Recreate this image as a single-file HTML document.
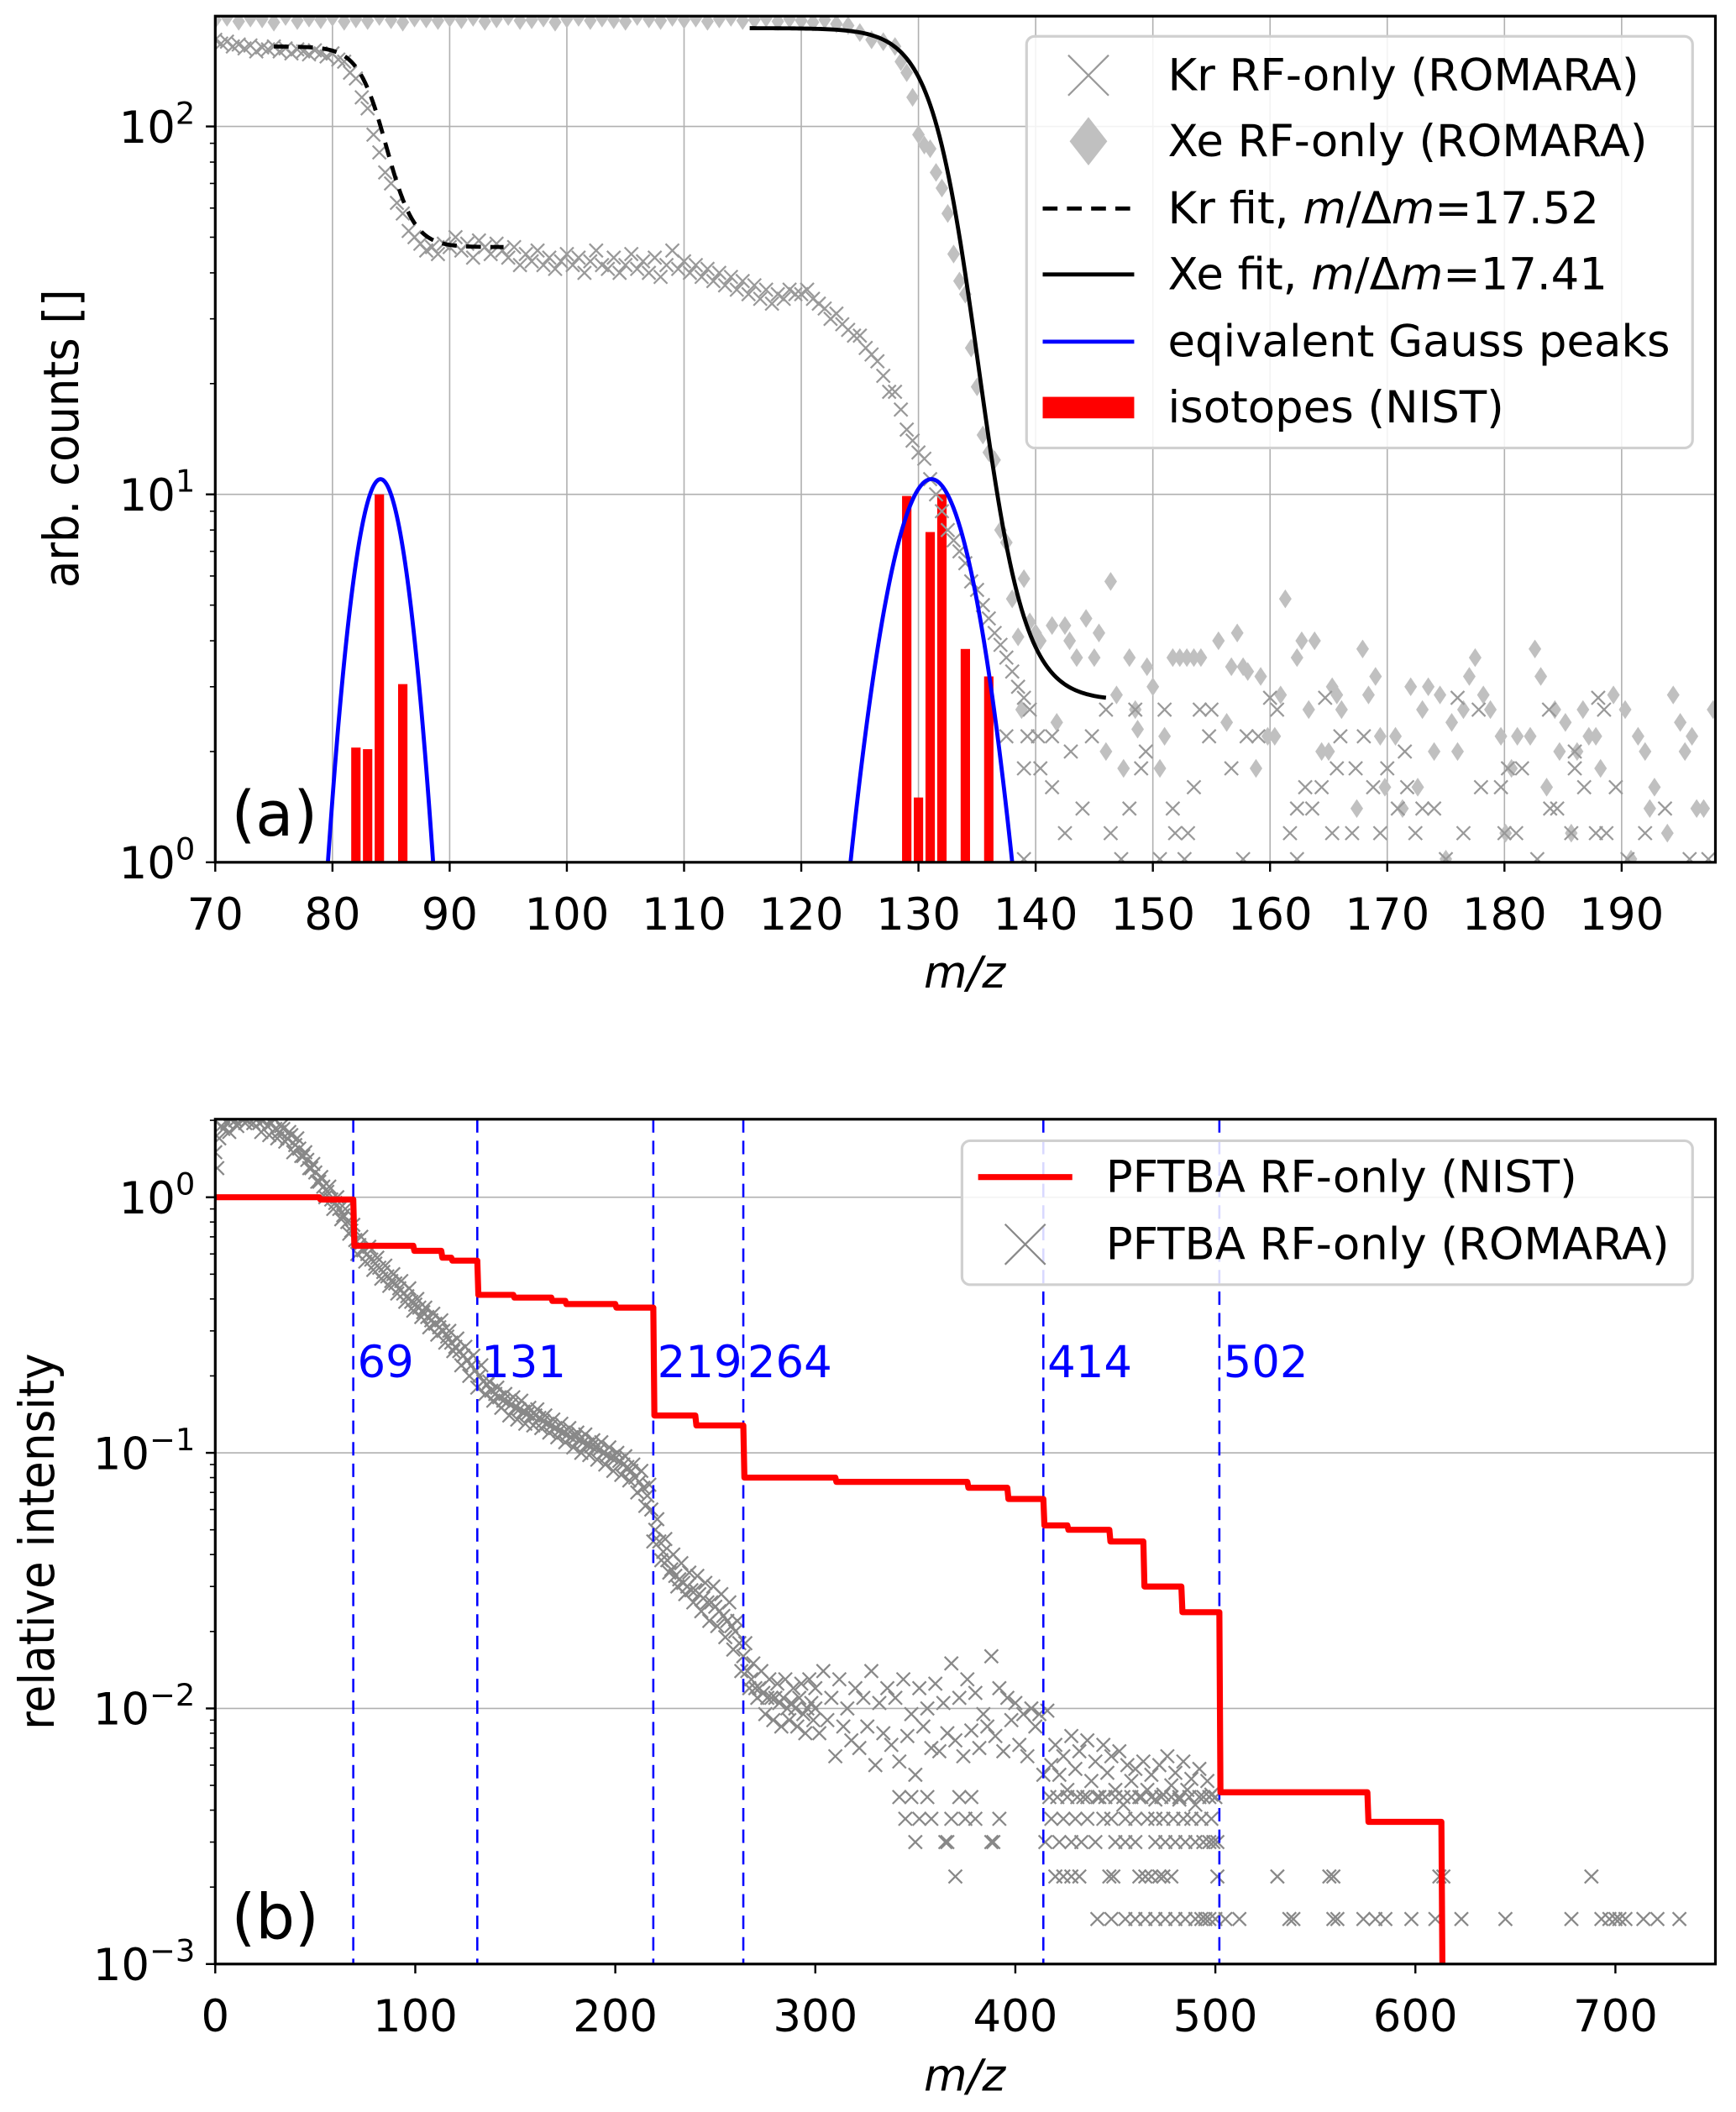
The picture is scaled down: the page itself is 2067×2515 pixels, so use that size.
<!DOCTYPE html>
<html><head><meta charset="utf-8"><style>
html,body{margin:0;padding:0;background:#fff;}
svg{display:block;}
text{font-family:"DejaVu Sans","Liberation Sans",sans-serif;}
</style></head><body>
<svg id="fig" xmlns="http://www.w3.org/2000/svg" width="2067" height="2515" viewBox="0 0 1290.3 1570" preserveAspectRatio="none">
<defs>
<clipPath id="clipA"><rect x="160" y="12" width="1115" height="629"/></clipPath>
<clipPath id="clipB"><rect x="160" y="832" width="1115" height="628"/></clipPath>
</defs>
<g id="gridA"></g>
<g id="gridB"></g>
<g id="plotA" clip-path="url(#clipA)"></g>
<g id="plotB" clip-path="url(#clipB)"></g>
<g id="axesA"></g>
<g id="axesB"></g>

<text x="172" y="621" font-size="46">(a)</text>
<text x="172" y="1441" font-size="46">(b)</text>
<text transform="translate(58,326) rotate(-90)" text-anchor="middle" font-size="36" textLength="222" lengthAdjust="spacingAndGlyphs">arb. counts []</text>
<text transform="translate(40,1146) rotate(-90)" text-anchor="middle" font-size="36" textLength="280" lengthAdjust="spacingAndGlyphs">relative intensity</text>
<text x="717" y="734" text-anchor="middle" font-size="33" font-style="italic">m/z</text>
<text x="717" y="1554" text-anchor="middle" font-size="33" font-style="italic">m/z</text>

<g>
<rect x="763" y="27" width="495" height="306" rx="6" fill="#fff" fill-opacity="0.85" stroke="#d0d0d0" stroke-width="2"/>
<path d="M794 41 L824 71 M794 71 L824 41" stroke="#999" stroke-width="1.4"/>
<text x="868" y="67" font-size="33">Kr RF-only (ROMARA)</text>
<path d="M809 87 L823 105 L809 123 L795 105 Z" fill="#c0c0c0"/>
<text x="868" y="116" font-size="33">Xe RF-only (ROMARA)</text>
<line x1="775" y1="155" x2="843" y2="155" stroke="#000" stroke-width="3" stroke-dasharray="11,7"/>
<text x="868" y="166" font-size="33">Kr fit, <tspan font-style="italic">m</tspan>/Δ<tspan font-style="italic">m</tspan>=17.52</text>
<line x1="775" y1="204" x2="843" y2="204" stroke="#000" stroke-width="3"/>
<text x="868" y="215" font-size="33">Xe fit, <tspan font-style="italic">m</tspan>/Δ<tspan font-style="italic">m</tspan>=17.41</text>
<line x1="775" y1="254" x2="843" y2="254" stroke="#0000ff" stroke-width="3"/>
<text x="868" y="265" font-size="33">eqivalent Gauss peaks</text>
<rect x="775" y="295" width="68" height="16" fill="#ff0000"/>
<text x="868" y="314" font-size="33">isotopes (NIST)</text>
</g>

<g>
<rect x="715" y="848" width="543" height="107" rx="6" fill="#fff" fill-opacity="0.85" stroke="#d0d0d0" stroke-width="2"/>
<line x1="727" y1="875" x2="797" y2="875" stroke="#ff0000" stroke-width="4.5"/>
<text x="822" y="886" font-size="33">PFTBA RF-only (NIST)</text>
<path d="M747 910 L777 940 M747 940 L777 910" stroke="#888" stroke-width="1.4"/>
<text x="822" y="936" font-size="33">PFTBA RF-only (ROMARA)</text>
</g>
</svg>
<script>
// ---------- panel (a) data ----------
const krStart = 70, krStep = 0.5;
const krVals = [172,168,170,165,167,163,166,160,164,162,
165,160,163,158,162,160,157,161,158,155,
158,152,150,140,135,120,112,95,85,75,
70,62,58,52,50,48,46,47,45,48,
47,50,46,48,44,49,47,45,48,46,
44,47,42,45,43,46,42,44,41,43,
45,42,44,40,43,46,42,41,44,40,
42,45,41,43,40,44,39,42,46,41,
43,40,42,39,41,38,40,37,39,36,
38,35,37,34,36,33,35,34,36,35,
35,36,34,33,32,30,31,29,28,27,
27,25,24,23,21,19,19,17,15,14,
13,12.5,11,10,9,8,7.5,7,6.5,5.8,
5.5,5,4.6,4.2,3.9,3.6,3.3,3.0,2.8,2.6];
const krScatMass = [176,160,164.7,188,146,148.5,151,154,155,160.6,177.8,183.8,188.5,137.5,139.3,141.4,140.2,144.8,154.8,158,159,166,168,143,149.4,171.5,186,139,140.4,149,156.7,165.7,167.3,170,180.3,181.5,186,141.4,153.5,163,164.4,168.8,171.7,178,179.7,186.8,189.5,144,148,151.7,162.3,163.6,170.9,173,174,183.9,184.5,193.7,142.5,146.4,151.9,153,161.7,165.3,167,169.4,172.4,176.5,180,181,185.7,187.8,188.7,192,139,147.3,150.6,152.7,157.7,162.3,175,182.8,190.5,195.8,197.4];
const krScatVals = [2.8,2.8,2.8,2.8,2.6,2.6,2.6,2.6,2.6,2.6,2.6,2.6,2.6,2.2,2.2,2.2,2.2,2.2,2.2,2.2,2.2,2.2,2.2,2.0,2.0,2.0,2.0,1.8,1.8,1.8,1.8,1.8,1.8,1.8,1.8,1.8,1.8,1.6,1.6,1.6,1.6,1.6,1.6,1.6,1.6,1.6,1.6,1.4,1.4,1.4,1.4,1.4,1.4,1.4,1.4,1.4,1.4,1.4,1.2,1.2,1.2,1.2,1.2,1.2,1.2,1.2,1.2,1.2,1.2,1.2,1.2,1.2,1.2,1.2,1.02,1.02,1.02,1.02,1.02,1.02,1.02,1.02,1.02,1.02,1.02];
const xeTopStart = 70, xeTopStep = 1;
const xeTopVals = [195,198,193,197,196,192,199,194,197,195,
198,193,196,194,199,195,192,197,196,194,
197,195,198,193,196,199,194,195,197,192,
196,198,194,197,195,193,199,196,194,198,
195,197,193,196,198,194,195,197,193,196,
194,192,195,190,188,180,172,170];
const xeDropStart = 128, xeDropStep = 0.5;
const xeDropVals = [165,150,140,120,95,89,87,75,68,58,45,38,35,25,19.6,14.5,13,12.4,8,7.4,5.2,4.1,5.9,4.5,4.2];
const xeScatMass = [146.4,140.4,141.4,142.5,142.9,144.3,145.4,143.5,145,138.8,141.8,146,146.9,148,148.5,148.7,149.5,150,150.6,151,147.5,151.7,152.3,152.9,153.5,154.1,155.6,156.3,156.7,157.2,157.7,158.1,158.8,159.2,159.8,160.4,160.9,161.3,162.3,162.7,163.3,163.8,164.4,165,165.3,165.7,166.1,167.4,167.9,168.4,169,169.4,169.8,170.7,171.3,172,172.6,173,173.5,174,174.5,175,175.5,176,176.5,177,177.5,178.2,178.8,179.7,180.1,180.6,181.1,182.2,182.6,183.1,183.6,184.3,184.7,185.2,185.7,186.2,186.7,187.2,187.8,188.2,189.3,190.3,191.4,192,192.8,192.4,193.9,194.4,195,195.4,196,196.4,197,197.8,190.8];
const xeScatVals = [5.8,4.0,4.4,4.4,4.0,4.6,4.2,3.6,3.6,2.6,2.4,2.0,2.85,3.6,2.6,2.3,3.4,3.0,1.8,2.2,1.8,3.6,3.6,3.6,3.6,3.6,4.0,2.4,3.4,4.2,3.4,3.3,1.8,3.2,2.2,2.2,2.85,5.2,3.6,4.0,2.6,4.0,2.0,2.0,3.0,2.85,2.6,1.4,3.8,2.85,3.2,2.2,1.6,2.2,1.4,3.0,1.6,2.6,3.0,2.0,2.85,1.02,2.4,2.0,2.6,3.2,3.6,2.85,2.6,2.2,1.2,1.8,2.2,2.2,3.8,3.2,1.6,2.6,2.0,2.4,1.2,2.0,2.6,2.2,2.2,1.8,2.85,2.6,2.2,2.0,1.6,1.4,1.2,2.85,2.4,2.0,2.2,1.4,1.4,2.6,1.02];
const krIsoMass = [82,83,84,86];
const krIsoVals = [2.05,2.03,10,3.05];
const xeIsoMass = [129,130,131,132,134,136];
const xeIsoVals = [9.9,1.5,7.9,10,3.8,3.2];
const gaussCenters = [84.1,131.1];
const gaussAmps = [11,11];
const gaussSigmas = [2.05,3.15];
const krFitRange = [75,94.7];
const krFitLevels = [165,47];
const krFitShape = [84.6,1.2];
const xeFitRange = [115.6,146];
const xeFitLevels = [185,2.75];
const xeFitShape = [135.1,2.0];
const xTicksA = [70,80,90,100,110,120,130,140,150,160,170,180,190];
const yTickExpA = [0,1,2];

// ---------- panel (b) data ----------
const pfAStart = 0, pfAStep = 2;
const pfAVals = [1.5,1.7,1.85,1.95,2.05,2.0,2.1,2.05,2.0,2.1,
2.05,1.95,2.0,1.9,1.95,1.85,1.8,1.85,1.7,1.75,
1.6,1.55,1.45,1.4,1.3,1.25,1.15,1.1,1.05,0.98,
0.95,0.9,0.85,0.8,0.74,0.68,0.65,0.62,0.6,0.57,
0.55,0.53,0.51,0.49,0.47,0.46,0.44,0.42,0.41,0.39,
0.38,0.37,0.355,0.34,0.33,0.32,0.31,0.3,0.285,0.27,
0.26,0.25,0.24,0.23,0.22,0.21,0.2,0.19,0.185,0.175,
0.17,0.165,0.16,0.158,0.155,0.15,0.148,0.145,0.142,0.14,
0.14,0.137,0.133,0.13,0.128,0.125,0.122,0.12,0.118,0.115,
0.115,0.113,0.11,0.108,0.106,0.105,0.103,0.1,0.098,0.096,
0.095,0.093,0.09,0.088,0.085,0.08,0.077,0.073,0.068,0.06,
0.05,0.045,0.041,0.038,0.035,0.033,0.032,0.031,0.03,0.029,
0.029,0.028,0.027,0.026,0.026,0.025,0.024,0.023,0.022,0.021,
0.02,0.018,0.016,0.014,0.013,0.012,0.012,0.0115,0.011,0.011,
0.011,0.0105,0.011,0.01,0.0105,0.01,0.011,0.0095,0.01,0.0105,0.01];
const pfBStart = 1, pfBStep = 2;
const pfBVals = [1.3,1.9,2.2,1.8,2.15,1.9,2.2,1.95,2.15,1.95,
2.15,1.8,2.1,1.75,2.05,1.7,1.9,1.65,1.8,1.5,
1.7,1.45,1.5,1.3,1.35,1.15,1.2,1.0,1.1,0.9,
1.0,0.82,0.9,0.72,0.78,0.6,0.7,0.56,0.64,0.52,
0.58,0.48,0.54,0.45,0.5,0.42,0.47,0.39,0.44,0.36,
0.4,0.34,0.37,0.31,0.35,0.29,0.33,0.27,0.3,0.25,
0.28,0.22,0.26,0.2,0.24,0.18,0.22,0.17,0.19,0.16,
0.18,0.15,0.17,0.14,0.165,0.135,0.16,0.13,0.15,0.128,
0.148,0.125,0.14,0.12,0.135,0.115,0.13,0.11,0.125,0.105,
0.12,0.1,0.118,0.098,0.112,0.094,0.11,0.09,0.105,0.085,
0.1,0.082,0.097,0.078,0.09,0.07,0.085,0.062,0.075,0.045,
0.055,0.038,0.046,0.034,0.04,0.03,0.037,0.028,0.034,0.026,
0.033,0.024,0.031,0.022,0.03,0.021,0.028,0.019,0.026,0.017,
0.022,0.014,0.018,0.012,0.015,0.011,0.014,0.0095,0.013,0.009,
0.0125,0.0085,0.013,0.009,0.012,0.0085,0.0125,0.008,0.013,0.009];
const pfCStart = 300, pfCStep = 2;
const pfCVals = [0.012,0.008,0.014,0.009,0.011,0.0065,0.013,0.0085,0.01,0.0075,
0.012,0.007,0.011,0.0085,0.014,0.006,0.0105,0.008,0.012,0.0072,
0.011,0.0062,0.013,0.0078,0.0095,0.0055,0.012,0.0085,0.01,0.007,
0.0125,0.0068,0.0105,0.008,0.015,0.0075,0.011,0.0065,0.013,0.0082,
0.0115,0.007,0.0095,0.0085,0.016,0.0078,0.012,0.0068,0.011,0.009,
0.0105,0.0072,0.0095,0.0065,0.01,0.0085,0.0095,0.0055,0.0098,0.006,
0.0072,0.0055,0.0065,0.0048,0.0078,0.0058,0.0068,0.0045,0.0075,0.0052,
0.0062,0.0045,0.0072,0.0056,0.0065,0.0048,0.0068,0.0042,0.006,0.0052,
0.0058,0.0045,0.0062,0.0048,0.0055,0.0044,0.006,0.0046,0.0065,0.005,
0.0056,0.0044,0.0062,0.0048,0.0053,0.0042,0.0058,0.0045,0.0052,0.0046,0.0045];
const rowLevels = [0.0045,0.0037,0.003,0.0022,0.0015];
const rowMass0 = [342,348,356,372,378,417,421,426,431,436,441,445,450,454,458,463,468,473,478,482,487,492,497];
const rowMass1 = [345,352,358,368,375,380,392,418,424,430,436,444,448,455,460,466,470,474,479,484,488,493,498];
const rowMass2 = [350,365,366,388,389,415,422,428,433,440,450,455,460,470,475,480,485,490,494,497,499,501];
const rowMass3 = [370,420,424,428,432,447,449,462,465,468,472,474,478,501,531,557,559,612,614,688];
const rowMass4 = [441,448,455,460,465,470,475,480,485,490,493,495,497,500,505,512,537,539,559,561,574,580,585,598,610,623,645,678,693,697,700,702,705,714,721,732];
const nistMass = [0,52,69,99,113,118,131,149,168,175,200,219,240,264,310,376,396,414,426,447,464,483,502,576,613];
const nistVals = [1.0,0.98,0.646,0.617,0.58,0.565,0.415,0.405,0.393,0.382,0.37,0.14,0.128,0.08,0.077,0.073,0.066,0.052,0.05,0.045,0.03,0.0238,0.0047,0.0036,0.0009];
const fragMass = [69,131,219,264,414,502];
const fragLabelLevel = 0.2;
const xTicksB = [0,100,200,300,400,500,600,700];
const yTickExpB = [0,-1,-2,-3];

// ---------- axes ----------
function xa(m){return 160+(m-70)/128*1115;}
function ya(v){return 641-Math.log10(v)*273.5;}
function xb(m){return 160+m/750*1115;}
function yb(v){return 1460-(Math.log10(v)+3)*190;}

const NS = "http://www.w3.org/2000/svg";
function mk(tag, attrs, parent){
  const e = document.createElementNS(NS, tag);
  for (const k in attrs) e.setAttribute(k, attrs[k]);
  parent.appendChild(e);
  return e;
}
const gridA = document.getElementById('gridA');
const gridB = document.getElementById('gridB');
const plotA = document.getElementById('plotA');
const plotB = document.getElementById('plotB');
const axesA = document.getElementById('axesA');
const axesB = document.getElementById('axesB');

function crossPath(x,y,s){return 'M'+(x-s)+' '+(y-s)+'L'+(x+s)+' '+(y+s)+'M'+(x-s)+' '+(y+s)+'L'+(x+s)+' '+(y-s);}

xTicksA.forEach(function(t){
  if (t===70) return;
  const l = mk('line',{x1:xa(t),x2:xa(t),y1:12,y2:641,stroke:'#b0b0b0','stroke-width':1},gridA);
  
  
});
yTickExpA.forEach(function(e){
  if (e===0) return;
  const l = mk('line',{x1:160,x2:1275,y1:ya(Math.pow(10,e)),y2:ya(Math.pow(10,e)),stroke:'#b0b0b0','stroke-width':1},gridA);
  
  
});
yTickExpB.forEach(function(e){
  if (e===-3) return;
  const l = mk('line',{x1:160,x2:1275,y1:yb(Math.pow(10,e)),y2:yb(Math.pow(10,e)),stroke:'#b0b0b0','stroke-width':1},gridB);
  
  
});

function bars(masses, vals, name){
  masses.forEach(function(m,i){
    const y = ya(vals[i]);
    const r = mk('rect',{x:xa(m-0.4),y:y,width:xa(m+0.4)-xa(m-0.4),height:Math.max(0,645-y),fill:'#ff0000'},plotA);
    
    
  });
}
bars(krIsoMass, krIsoVals, 'kr-isotope-bar');
bars(xeIsoMass, xeIsoVals, 'xe-isotope-bar');

function diamond(m,v){
  const x = xa(m), y = ya(v);
  const d = mk('path',{d:'M'+x+' '+(y-7)+'L'+(x+4.7)+' '+y+'L'+x+' '+(y+7)+'L'+(x-4.7)+' '+y+'Z',fill:'#c0c0c0'},plotA);
  
  
}
xeTopVals.forEach(function(v,i){diamond(xeTopStart+i*xeTopStep, v);});
xeDropVals.forEach(function(v,i){diamond(xeDropStart+i*xeDropStep, v);});
xeScatMass.forEach(function(m,i){diamond(m, xeScatVals[i]);});

function krCross(m,v){
  const c = mk('path',{d:crossPath(xa(m),ya(v),5),stroke:'#999','stroke-width':1.4,fill:'none'},plotA);
  
  
}
krVals.forEach(function(v,i){krCross(krStart+i*krStep, v);});
krScatMass.forEach(function(m,i){krCross(m, krScatVals[i]);});

function fitPath(range, levels, shape){
  const lh = Math.log10(levels[0]), ll = Math.log10(levels[1]);
  let d = '';
  for (let m = range[0]; m <= range[1]+1e-9; m += 0.2){
    const lv = ll + (lh-ll)/(1+Math.exp((m-shape[0])/shape[1]));
    d += (d ? 'L' : 'M') + xa(m).toFixed(2) + ' ' + ya(Math.pow(10,lv)).toFixed(2);
  }
  return d;
}
const krFit = mk('path',{d:fitPath(krFitRange,krFitLevels,krFitShape),stroke:'#000','stroke-width':3,fill:'none','stroke-dasharray':'11,7'},plotA);


const xeFit = mk('path',{d:fitPath(xeFitRange,xeFitLevels,xeFitShape),stroke:'#000','stroke-width':3,fill:'none'},plotA);



gaussCenters.forEach(function(c,i){
  let d = '';
  const s = gaussSigmas[i], a = gaussAmps[i];
  for (let m = c-4*s; m <= c+4*s; m += 0.1){
    const v = a*Math.exp(-(m-c)*(m-c)/(2*s*s));
    d += (d ? 'L' : 'M') + xa(m).toFixed(2) + ' ' + Math.min(700, ya(Math.max(v,1e-3))).toFixed(2);
  }
  const g = mk('path',{d:d,stroke:'#0000ff','stroke-width':3,fill:'none'},plotA);
  
  
});

function pfCross(m,v){
  const c = mk('path',{d:crossPath(xb(m),yb(v),5),stroke:'#888','stroke-width':1.4,fill:'none'},plotB);
  
  
}
pfAVals.forEach(function(v,i){pfCross(pfAStart+i*pfAStep, v);});
pfBVals.forEach(function(v,i){pfCross(pfBStart+i*pfBStep, v);});
pfCVals.forEach(function(v,i){pfCross(pfCStart+i*pfCStep, v);});
[rowMass0,rowMass1,rowMass2,rowMass3,rowMass4].forEach(function(arr,k){
  arr.forEach(function(m){pfCross(m, rowLevels[k]);});
});

fragMass.forEach(function(m){
  const l = mk('line',{x1:xb(m),x2:xb(m),y1:832,y2:1460,stroke:'#0000ff','stroke-width':1.6,'stroke-dasharray':'10,6'},plotB);
  
  
  const t = mk('text',{x:xb(m)+3,y:yb(fragLabelLevel)+1,'font-size':33,fill:'#0000ff'},plotB);
  t.textContent = String(m);
  
  
});

let nd = '';
nistMass.forEach(function(m,i){
  if (i===0){ nd = 'M'+xb(m)+' '+yb(nistVals[i]); }
  else { nd += 'L'+xb(m)+' '+yb(nistVals[i-1])+'L'+(xb(m)+0.8)+' '+yb(nistVals[i]); }
});
const nist = mk('path',{d:nd,stroke:'#ff0000','stroke-width':4.5,fill:'none','stroke-linejoin':'round'},plotB);



function frame(g, y0, y1, name){
  const r = mk('rect',{x:160,y:y0,width:1115,height:y1-y0,fill:'none',stroke:'#000','stroke-width':2},g);
  
  
}
frame(axesA,12,641,'axes-frame-a');
frame(axesB,832,1460,'axes-frame-b');

xTicksA.forEach(function(t){
  const l = mk('line',{x1:xa(t),x2:xa(t),y1:641,y2:648,stroke:'#000','stroke-width':1.5},axesA);
  
  
  const tx = mk('text',{x:xa(t),y:691,'text-anchor':'middle','font-size':33},axesA);
  tx.textContent = String(t);
  
  
});
xTicksB.forEach(function(t){
  const l = mk('line',{x1:xb(t),x2:xb(t),y1:1460,y2:1467,stroke:'#000','stroke-width':1.5},axesB);
  
  
  const tx = mk('text',{x:xb(t),y:1510,'text-anchor':'middle','font-size':33},axesB);
  tx.textContent = String(t);
  
  
});
function yTicks(g, exps, yf, ymin, ymax, name){
  exps.forEach(function(e){
    const y = yf(Math.pow(10,e));
    const l = mk('line',{x1:153,x2:160,y1:y,y2:y,stroke:'#000','stroke-width':1.5},g);
    
    
    const tx = mk('text',{x:145,y:y+12,'text-anchor':'end','font-size':33},g);
    
    
    tx.appendChild(document.createTextNode('10'));
    const sp = document.createElementNS(NS,'tspan');
    sp.setAttribute('dy','-14');
    sp.setAttribute('font-size','23');
    sp.textContent = (e<0 ? '\u2212'+(-e) : String(e));
    tx.appendChild(sp);
    for (let k=2;k<=9;k++){
      const ym = yf(k*Math.pow(10,e));
      if (ym < ymin || ym > ymax) continue;
      const lm = mk('line',{x1:156,x2:160,y1:ym,y2:ym,stroke:'#000','stroke-width':1},g);
      
      
    }
  });
}
yTicks(axesA, yTickExpA, ya, 12, 641, 'y-a');
yTicks(axesB, yTickExpB, yb, 832, 1460, 'y-b');
</script>
</body></html>
